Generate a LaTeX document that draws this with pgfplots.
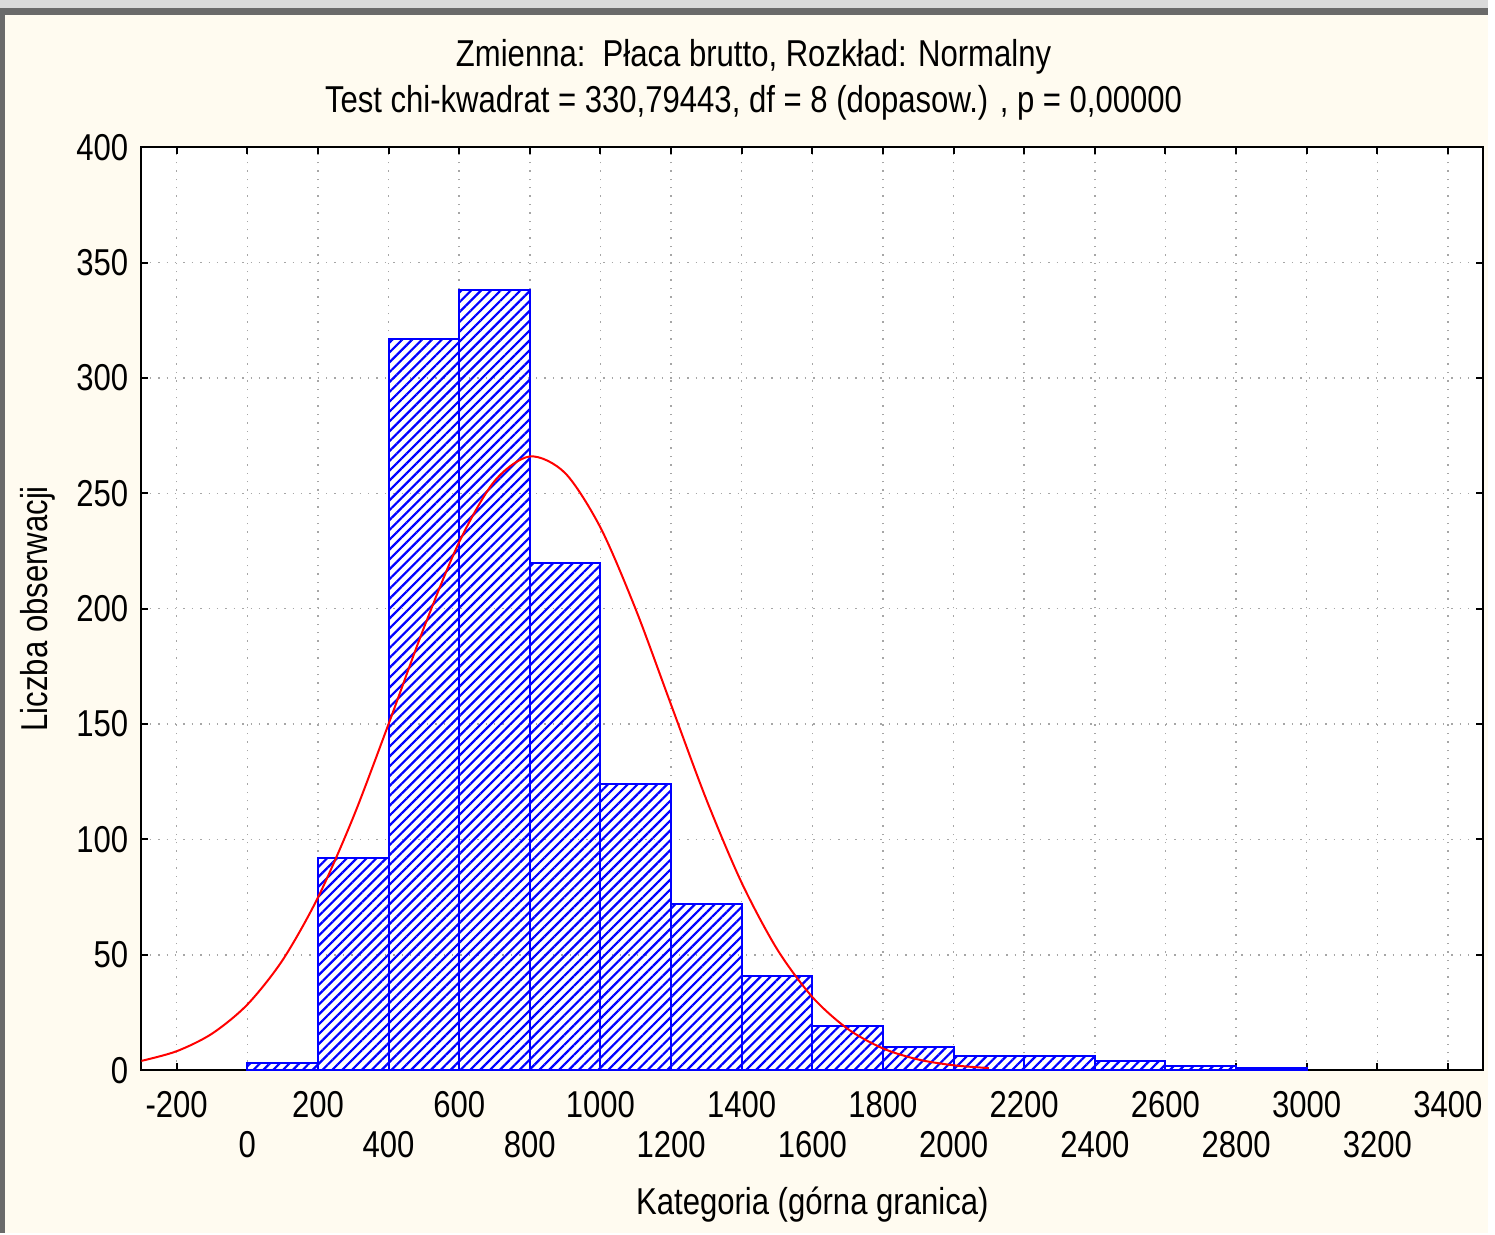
\documentclass[border=0pt]{standalone}
\usepackage{fontspec}
\setmainfont{Liberation Sans}[FakeStretch=0.83]
\usepackage{pgfplots}
\pgfplotsset{compat=1.18}
\usetikzlibrary{patterns.meta,backgrounds,calc}
\definecolor{cream}{HTML}{FFFBF0}
\definecolor{frame}{HTML}{6A6A6A}
\definecolor{framelight}{HTML}{DADADA}

\begin{document}
\fontsize{10.7}{13}\selectfont
\begin{tikzpicture}
\begin{axis}[
    name=ax,
    scale only axis,
    width=13.48cm, height=9.27cm,
    xmin=-300, xmax=3500, ymin=0, ymax=400,
    xtick={-200,200,...,3400},
    ytick={0,50,...,400},
    extra x ticks={0,400,...,3200},
    extra x tick style={grid=major, xticklabel style={yshift=-4mm}},
    xticklabel style={yshift=-0.8mm},
    /pgf/number format/assume math mode=true,
    /pgf/number format/1000 sep={},
    grid=major,
    major grid style={dotted, gray!70, line width=0.15mm},
    axis line style={line width=0.2mm, black},
    tick style={line width=0.2mm, black},
    tick align=inside,
    major tick length=0.7mm,
    axis background/.style={fill=white},
]
% histogram (upper class bounds every 200)
\addplot[ybar interval, draw=blue, line width=0.2mm,
    pattern={Lines[angle=45,distance=0.7mm,line width=0.22mm]}, pattern color=blue]
  coordinates {(0,3) (200,92) (400,317) (600,338) (800,220) (1000,124) (1200,72)
    (1400,41) (1600,19) (1800,10) (2000,6) (2200,6) (2400,4) (2600,2) (2800,1) (3000,1)};
% fitted normal curve
\addplot[red, line width=0.2mm, smooth] coordinates {
  (-300,4.0) (-200,8.2) (-100,15.8) (0,28.4) (100,47.7) (200,74.8) (300,109.6)
  (400,150.0) (500,191.7) (600,228.9) (700,255.3) (800,266.0) (900,258.8)
  (1000,235.2) (1100,199.7) (1200,158.4) (1300,117.3) (1400,81.2) (1500,52.5)
  (1600,31.7) (1700,17.9) (1800,9.4) (1900,4.6) (2000,2.1) (2100,0.9)};
\end{axis}
\node at ($(ax.north west)+(6.15cm,0.91cm)$) {Zmienna:\ \ Płaca brutto, Rozkład: Normalny};
\node at ($(ax.north west)+(6.15cm,0.45cm)$) {Test chi-kwadrat = 330,79443, df = 8 (dopasow.) , p = 0,00000};
\node[rotate=90] at ($(ax.west)+(-1.04cm,0)$) {Liczba obserwacji};
\node at ($(ax.south)+(0,-1.35cm)$) {Kategoria (górna granica)};
\begin{scope}[on background layer]
  \coordinate (bl) at ($(ax.south west)+(-1.42cm,-1.64cm)$);
  \coordinate (tr) at ($(ax.north east)+(0.05cm,1.48cm)$);
  \fill[cream] (bl) rectangle (tr);
  \fill[framelight] (bl |- tr) rectangle ($(tr)+(0,-0.08cm)$);
  \fill[frame] ($(bl |- tr)+(0,-0.08cm)$) rectangle ($(tr)+(0,-0.15cm)$);
  \fill[frame] ($(bl |- tr)+(0,-0.08cm)$) rectangle ($(bl)+(0.05cm,0)$);
\end{scope}
\end{tikzpicture}
\end{document}
